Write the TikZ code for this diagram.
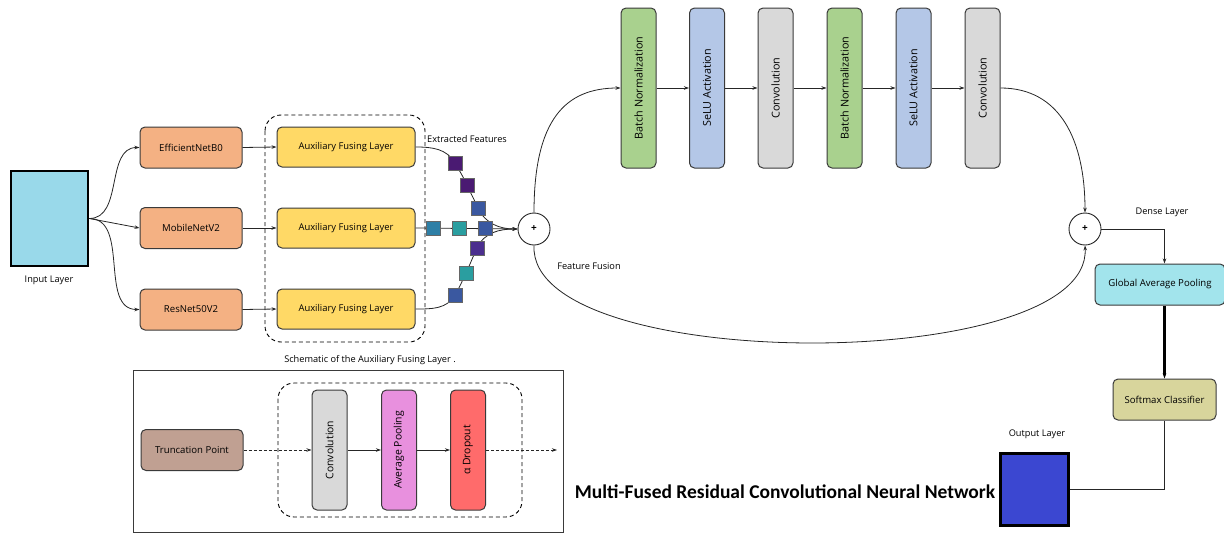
\documentclass[tikz,border=0pt]{standalone}
\usepackage{fontspec}
\usepackage{graphicx}
\setmainfont{Open Sans}
\newfontfamily\titlefont{Carlito}
\usetikzlibrary{arrows.meta,backgrounds,calc}

\definecolor{inblue}{HTML}{99D9EA}
\definecolor{bbone}{HTML}{F4B183}
\definecolor{afl}{HTML}{FFD966}
\definecolor{bngreen}{HTML}{A9D18E}
\definecolor{selublue}{HTML}{B4C7E7}
\definecolor{convgray}{HTML}{D9D9D9}
\definecolor{gapcyan}{HTML}{A2E4EC}
\definecolor{smkhaki}{HTML}{D8D59C}
\definecolor{truncbrown}{HTML}{C0A092}
\definecolor{poolpink}{HTML}{E890DE}
\definecolor{dropred}{HTML}{FF6B6B}
\definecolor{outblue}{HTML}{3B47D1}
\definecolor{edge}{HTML}{3A3A3A}
\definecolor{fpurple}{HTML}{4A1A72}
\definecolor{fblue}{HTML}{3A58A0}
\definecolor{fteal}{HTML}{2A9EA0}
\definecolor{fsteel}{HTML}{2E7FA6}
\definecolor{fviolet}{HTML}{4B2E8E}

\tikzset{
  arr/.style={-{Stealth[length=5pt,width=3.5pt]}, line width=0.8pt, draw=black!85},
  plain/.style={line width=0.8pt, draw=black!85},
  blk/.style={draw=edge, line width=1pt, rounded corners=5pt, inner sep=0pt, align=center},
  hbox/.style={blk, minimum width=102pt, minimum height=41pt, font=\fontsize{9.6}{11}\selectfont},
  aflbox/.style={blk, fill=afl, minimum width=138pt, minimum height=40pt, font=\fontsize{9.4}{11}\selectfont},
  vbox/.style={blk, minimum width=35pt, minimum height=160pt, font=\fontsize{10.8}{12}\selectfont},
  sbox/.style={blk, minimum width=35pt, minimum height=120pt, font=\fontsize{10.4}{12}\selectfont},
  feat/.style={draw=black!60, line width=0.4pt, minimum size=14pt, inner sep=0pt},
  plus/.style={circle, draw=black!85, line width=0.9pt, minimum size=32pt, inner sep=0pt, font=\bfseries\fontsize{10}{12}\selectfont, fill=white},
  lab/.style={font=\fontsize{9.2}{11}\selectfont, inner sep=0pt},
  layer/.style={draw=black, line width=2.6pt, inner sep=0pt},
}

\begin{document}
\begin{tikzpicture}[x=1pt, y=-1pt]
\useasboundingbox (0,0) rectangle (1224,533);

% input and backbones
\node[layer, fill=inblue, minimum width=77pt, minimum height=95pt] (in) at (49.5,218.5) {};
\node[lab] (inlab) at (49,280) {Input Layer};

\node[hbox, fill=bbone] (eff) at (191,147.5) {EfficientNetB0};
\node[hbox, fill=bbone] (mob) at (191,228) {MobileNetV2};
\node[hbox, fill=bbone] (res) at (191,309.5) {ResNet50V2};

\draw[arr] (in.east) to[out=0, in=180] (eff.west);
\draw[arr] (in.east) -- (mob.west);
\draw[arr] (in.east) to[out=0, in=180] (res.west);

% auxiliary fusing layers
\node[aflbox] (a1) at (346,147) {Auxiliary Fusing Layer};
\node[aflbox] (a2) at (346,228) {Auxiliary Fusing Layer};
\node[aflbox] (a3) at (346,309) {Auxiliary Fusing Layer};
\draw[dashed, line width=0.9pt, rounded corners=16pt, dash pattern=on 4pt off 3pt] (265,115) rectangle (425,342);

\draw[arr] (eff.east) -- (a1.west);
\draw[arr] (mob.east) -- (a2.west);
\draw[arr] (res.east) -- (a3.west);

\node[lab] (exlab) at (467,139) {Extracted Features};

% fusion node
\node[plus] (p1) at (534,229) {+};
\node[lab] (fflab) at (589,266) {Feature Fusion};

% extracted feature maps
\node[feat, fill=fpurple] (f1) at (455,163) {};
\node[feat, fill=fpurple] (f2) at (467,185) {};
\node[feat, fill=fblue]   (f3) at (478,208) {};
\node[feat, fill=fsteel]  (f4) at (433,228) {};
\node[feat, fill=fteal]   (f5) at (459,228) {};
\node[feat, fill=fblue]   (f6) at (485,228) {};
\node[feat, fill=fviolet] (f7) at (477,248) {};
\node[feat, fill=fteal]   (f8) at (466,273) {};
\node[feat, fill=fblue]   (f9) at (455,295) {};

\begin{pgfonlayer}{background}
\draw[arr] (a1.east) to[out=0, in=120] (f1.center) to[out=-60, in=115] (f2.center)
  to[out=-65, in=115] (f3.center) to[out=-65, in=180] (p1.west);
\draw[arr] (a2.east) -- (p1.west);
\draw[arr] (a3.east) to[out=0, in=-120] (f9.center) to[out=60, in=-115] (f8.center)
  to[out=65, in=-115] (f7.center) to[out=65, in=180] (p1.west);
\end{pgfonlayer}

% residual block
\node[vbox, fill=bngreen]   (bn1) at (638.5,88) {\rotatebox{90}{Batch Normalization}};
\node[vbox, fill=selublue]  (se1) at (707,88)   {\rotatebox{90}{SeLU Activation}};
\node[vbox, fill=convgray]  (cv1) at (775.5,88) {\rotatebox{90}{Convolution}};
\node[vbox, fill=bngreen]   (bn2) at (844.5,88) {\rotatebox{90}{Batch Normalization}};
\node[vbox, fill=selublue]  (se2) at (913.5,88) {\rotatebox{90}{SeLU Activation}};
\node[vbox, fill=convgray]  (cv2) at (982.5,88) {\rotatebox{90}{Convolution}};

\draw[arr] (bn1.east) -- (se1.west);
\draw[arr] (se1.east) -- (cv1.west);
\draw[arr] (cv1.east) -- (bn2.west);
\draw[arr] (bn2.east) -- (se2.west);
\draw[arr] (se2.east) -- (cv2.west);

\node[plus] (p2) at (1085,229) {+};

\draw[arr] (p1.north) .. controls (534,120) and (565,88) .. (bn1.west);
\draw[arr] (cv2.east) .. controls (1060,88) and (1085,140) .. (p2.north);
\draw[arr] (p1.south) .. controls (528,375) and (1092,375) .. (p2.south);

% head
\node[lab] (dlab) at (1162,212) {Dense Layer};
\node[blk, fill=gapcyan, minimum width=130pt, minimum height=41pt, font=\fontsize{9.6}{11}\selectfont] (gap) at (1160,284.5) {Global Average Pooling};
\node[blk, fill=smkhaki, minimum width=103pt, minimum height=41pt, font=\fontsize{9.6}{11}\selectfont] (sm) at (1164.5,399.5) {Softmax Classifier};

\draw[arr] (p2.east) -| (gap.north -| sm.north);
\draw[-{Stealth[length=5pt,width=3.5pt]}, line width=2.4pt] (gap.south -| sm.north) -- (sm.north);

\node[layer, fill=outblue, minimum width=68pt, minimum height=72pt] (out) at (1034.5,489.5) {};
\node[lab] (olab) at (1037,434) {Output Layer};
\draw[plain] (sm.south) |- (out.east);

\node[font=\titlefont\bfseries\fontsize{19.5}{22}\selectfont, inner sep=0pt] (title) at (785,492) {Multi-Fused Residual Convolutional Neural Network};

% schematic of the auxiliary fusing layer
\node[lab] (slab) at (370,360) {Schematic of the Auxiliary Fusing Layer .};
\draw[line width=1pt, draw=edge] (133,370) rectangle (563,532);
\node[hbox, fill=truncbrown] (tp) at (192,450) {Truncation Point};
\draw[dashed, line width=0.9pt, rounded corners=16pt, dash pattern=on 4pt off 3pt] (278,383) rectangle (522,517);
\node[sbox, fill=convgray] (sc) at (329.5,450) {\rotatebox{90}{Convolution}};
\node[sbox, fill=poolpink] (sp) at (399,450)   {\rotatebox{90}{Average Pooling}};
\node[sbox, fill=dropred]  (sd) at (468,450)   {\rotatebox{90}{α Dropout}};
\coordinate (send) at (557,450);

\draw[arr, dash pattern=on 3pt off 2pt] (tp.east) -- (sc.west);
\draw[arr] (sc.east) -- (sp.west);
\draw[arr] (sp.east) -- (sd.west);
\draw[arr, dash pattern=on 3pt off 2pt] (sd.east) -- (send);
\end{tikzpicture}
\end{document}
